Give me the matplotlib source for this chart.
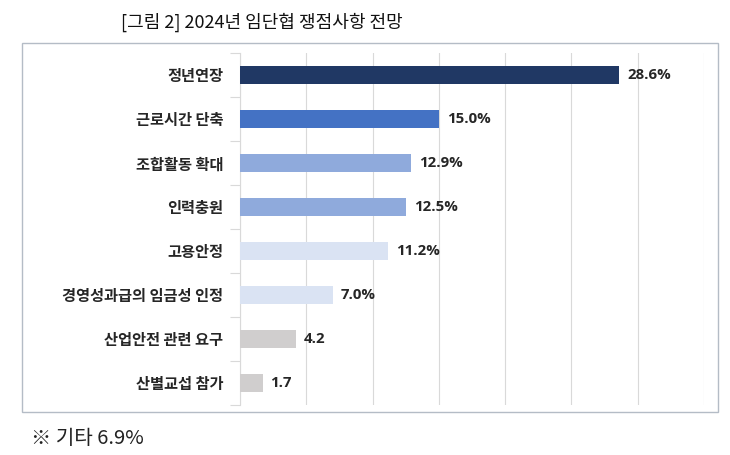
import matplotlib.pyplot as plt
from matplotlib.patches import Rectangle

plt.rcParams['font.family'] = ['Noto Sans CJK KR', 'DejaVu Sans']

# data
categories = ["정년연장", "근로시간 단축", "조합활동 확대", "인력충원",
              "고용안정", "경영성과급의 임금성 인정", "산업안전 관련 요구", "산별교섭 참가"]
values = [28.6, 15.0, 12.9, 12.5, 11.2, 7.0, 4.2, 1.7]
value_labels = ["28.6%", "15.0%", "12.9%", "12.5%", "11.2%", "7.0%", "4.2", "1.7"]
colors = ["#203864", "#4472c4", "#8faadc", "#8faadc",
          "#dae3f3", "#dae3f3", "#d0cece", "#d0cece"]

fig = plt.figure(figsize=(7.3, 4.55), dpi=100)

# outer frame around the chart
fig.patches.append(Rectangle((22 / 730, 1 - 412 / 455), 696 / 730, 369 / 455,
                             transform=fig.transFigure, fill=False,
                             edgecolor="#b4bcc6", linewidth=1.0))

ax = fig.add_axes([240 / 730, 1 - 405 / 455, 464 / 730, 352 / 455])
y = list(range(len(categories)))
ax.barh(y, values, height=0.4, color=colors, zorder=3)
for yi, v, lab in zip(y, values, value_labels):
    ax.text(v + 0.6, yi, lab, va="center", ha="left", fontsize=10.8,
            fontweight="bold", color="#262626", family=["Open Sans", "DejaVu Sans"])

ax.set_xlim(0, 35)
ax.set_ylim(len(categories) - 0.5, -0.5)
ax.set_xticks(range(0, 36, 5))
ax.set_xticklabels([])
ax.tick_params(axis="x", length=0)
ax.grid(axis="x", color="#d9d9d9", linewidth=0.8, zorder=0)

ax.set_yticks(y)
ax.set_yticklabels(categories, fontsize=11, fontweight="bold", color="#262626")
ax.tick_params(axis="y", which="major", length=0, pad=12)
ax.set_yticks([i - 0.5 for i in range(len(categories) + 1)], minor=True)
ax.tick_params(axis="y", which="minor", length=7, color="#d9d9d9", width=0.8)

for side in ["top", "right", "bottom"]:
    ax.spines[side].set_visible(False)
ax.spines["left"].set_color("#d9d9d9")
ax.spines["left"].set_linewidth(0.8)

fig.text(262 / 730, 1 - 22 / 455, "[그림 2] 2024년 임단협 쟁점사항 전망", ha="center",
         va="center", fontsize=13, color="#111111")
fig.text(31 / 730, 1 - 438 / 455, "※ 기타 6.9%", ha="left", va="center",
         fontsize=14.5, fontweight="light", color="#222222")

fig.savefig("out.png", dpi=100)
